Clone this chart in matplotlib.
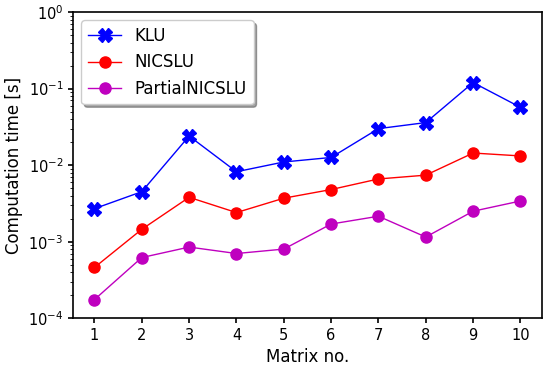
import numpy as np
import matplotlib.pyplot as plt

# data
matrix_no = np.arange(1, 11)
klu = [2.7e-3, 4.5e-3, 2.4e-2, 8.2e-3, 1.1e-2, 1.26e-2, 3.0e-2, 3.6e-2, 1.2e-1, 5.7e-2]
nicslu = [4.6e-4, 1.45e-3, 3.8e-3, 2.4e-3, 3.7e-3, 4.8e-3, 6.6e-3, 7.4e-3, 1.44e-2, 1.32e-2]
partial = [1.75e-4, 6.2e-4, 8.5e-4, 7.0e-4, 8.0e-4, 1.7e-3, 2.15e-3, 1.15e-3, 2.5e-3, 3.4e-3]

fig, ax = plt.subplots(figsize=(5.5, 3.67), dpi=100)
ax.plot(matrix_no, klu, color='blue', marker='X', markersize=10, linewidth=1, label='KLU')
ax.plot(matrix_no, nicslu, color='red', marker='o', markersize=8, linewidth=1, label='NICSLU')
ax.plot(matrix_no, partial, color='m', marker='o', markersize=8, linewidth=1, label='PartialNICSLU')

ax.set_yscale('log')
ax.set_ylim(1e-4, 1e0)
ax.set_xticks(matrix_no)
ax.tick_params(labelsize=10.5, width=1.2)
for s in ax.spines.values():
    s.set_linewidth(1.2)
ax.set_xlabel('Matrix no.', fontsize=12)
ax.set_ylabel('Computation time [s]', fontsize=12)
ax.legend(loc='upper left', fontsize=12, shadow=True, fancybox=True)

plt.subplots_adjust(left=0.133, right=0.985, top=0.967, bottom=0.133)
plt.savefig('out.png', dpi=100)
